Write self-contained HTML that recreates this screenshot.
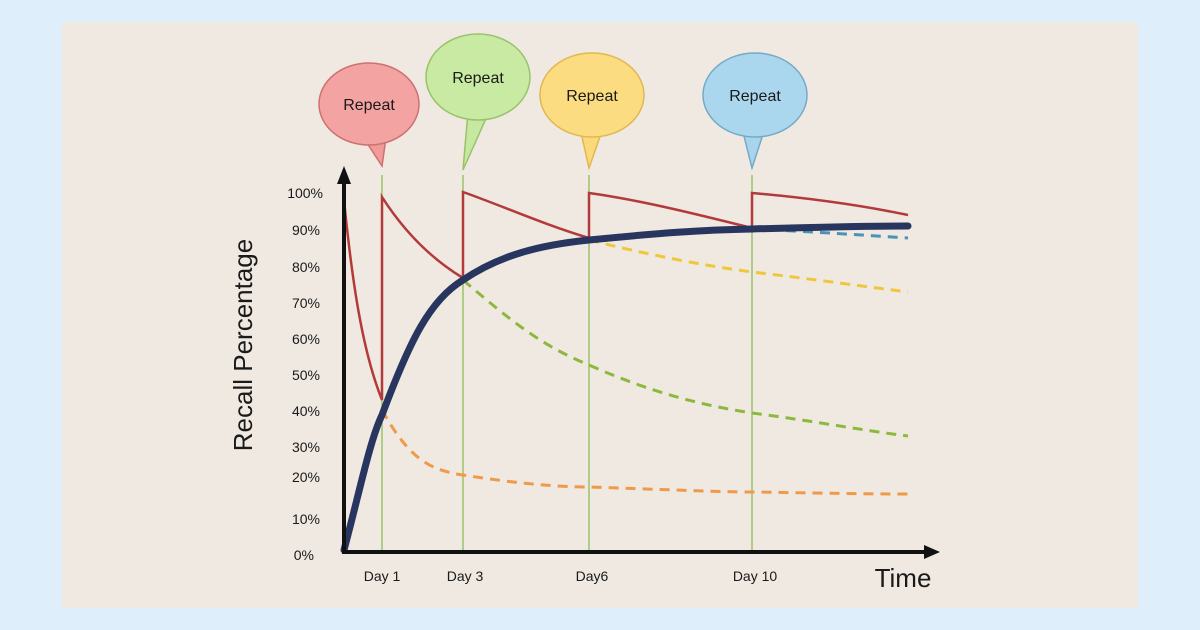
<!DOCTYPE html>
<html><head><style>
body{margin:0;background:#deeefb;}
svg{display:block}
text{font-family:"Liberation Sans",sans-serif;fill:#1a1a1a}
</style></head><body>
<svg width="1200" height="630" viewBox="0 0 1200 630">
<rect x="0" y="0" width="1200" height="630" fill="#deeefb"/>
<rect x="62" y="22" width="1076" height="586" fill="#efe9e1"/>
<g stroke="#9cc46a" stroke-width="1.5">
<line x1="382" y1="175" x2="382" y2="552"/><line x1="463" y1="175" x2="463" y2="552"/>
<line x1="589" y1="175" x2="589" y2="552"/><line x1="752" y1="175" x2="752" y2="552"/>
</g>
<g fill="none" stroke-width="3" stroke-dasharray="10,7">
<path d="M382,410 C410,460 430,470 463,475 C520,484 560,487 589,487 C680,490 720,492 752,492 C820,493 860,494 908,494" stroke="#ef9a4a"/>
<path d="M463,280 C510,320 540,345 589,365 C650,392 700,405 752,413 C820,422 860,430 908,436" stroke="#8db83e"/>
<path d="M589,240 C650,255 700,265 752,272 C820,280 860,286 908,292" stroke="#f0c63a"/>
<path d="M752,229 C820,232 860,235 908,238" stroke="#4b92b8"/>
</g>
<path d="M344,200 C352,280 362,350 382,400 L382,197 C400,225 425,255 463,278 L463,192 C500,205 545,225 589,238 L589,193 C640,200 700,215 752,228 L752,193 C810,198 860,205 908,215" fill="none" stroke="#b33a3a" stroke-width="2.5"/>
<path d="M344,550 C360,490 370,440 382,415 C410,340 430,300 463,280 C500,255 540,245 589,240 C660,233 700,230 752,229 C820,227 860,226 908,226" fill="none" stroke="#28365f" stroke-width="7" stroke-linecap="round"/>
<g stroke="#111" stroke-width="4">
<line x1="344" y1="180" x2="344" y2="553"/><line x1="342" y1="552" x2="928" y2="552"/>
</g>
<polygon points="344,166 337,184 351,184" fill="#111"/>
<polygon points="940,552 924,545 924,559" fill="#111"/>
<g font-size="14" text-anchor="end">
<text x="323" y="198">100%</text><text x="320" y="235">90%</text><text x="320" y="272">80%</text>
<text x="320" y="308">70%</text><text x="320" y="344">60%</text><text x="320" y="380">50%</text>
<text x="320" y="416">40%</text><text x="320" y="452">30%</text><text x="320" y="482">20%</text>
<text x="320" y="524">10%</text><text x="314" y="560">0%</text>
</g>
<g font-size="14" text-anchor="middle">
<text x="382" y="581">Day 1</text><text x="465" y="581">Day 3</text>
<text x="592" y="581">Day6</text><text x="755" y="581">Day 10</text>
</g>
<text x="903" y="587" font-size="26" text-anchor="middle">Time</text>
<text transform="translate(252,345) rotate(-90)" font-size="26" text-anchor="middle">Recall Percentage</text>
<g stroke-width="1.5" font-size="16" text-anchor="middle">
<path d="M365,140 L382,166 L386,138 Z" fill="#f09a9a" stroke="#d07070"/>
<ellipse cx="369" cy="104" rx="50" ry="41" fill="#f4a3a3" stroke="#d07070"/>
<text x="369" y="110">Repeat</text>
<path d="M468,112 L463,170 L488,114 Z" fill="#c6e8a0" stroke="#99c26b"/>
<ellipse cx="478" cy="77" rx="52" ry="43" fill="#c9eaa3" stroke="#99c26b"/>
<text x="478" y="83">Repeat</text>
<path d="M580,128 L589,168 L603,128 Z" fill="#fbd97a" stroke="#e0b84f"/>
<ellipse cx="592" cy="95" rx="52" ry="42" fill="#fcdc80" stroke="#e0b84f"/>
<text x="592" y="101">Repeat</text>
<path d="M742,128 L752,168 L765,128 Z" fill="#a9d5ec" stroke="#74aac8"/>
<ellipse cx="755" cy="95" rx="52" ry="42" fill="#abd7ee" stroke="#74aac8"/>
<text x="755" y="101">Repeat</text>
</g>
</svg>
</body></html>
